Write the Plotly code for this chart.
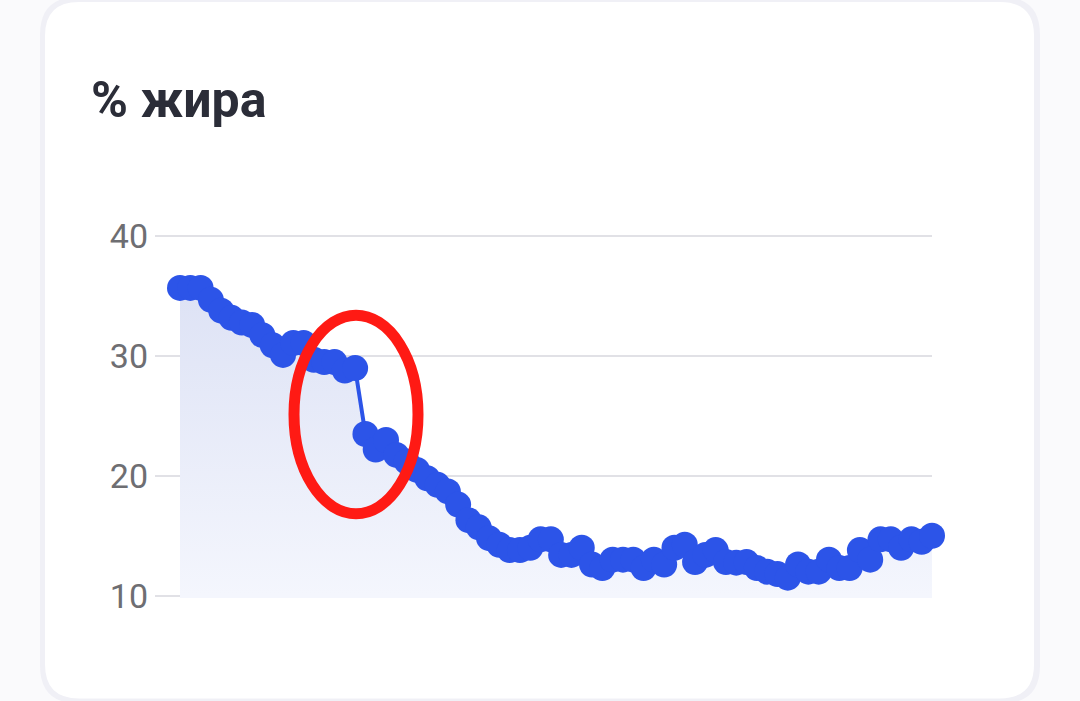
import plotly.graph_objects as go

# body fat readings, one per measurement
fat_pct = [35.7, 35.7, 35.7, 34.7, 33.8, 33.2, 32.8, 32.6, 31.75, 30.9,
           30.1, 31.1, 31.1, 29.7, 29.5, 29.5, 28.8, 29.0, 23.5, 22.2,
           23.0, 21.75, 21.2, 20.5, 19.8, 19.25, 18.7, 17.6, 16.3, 15.7,
           14.8, 14.25, 13.8, 13.8, 14.0, 14.7, 14.7, 13.4, 13.4, 14.0,
           12.6, 12.3, 13.0, 13.0, 13.0, 12.3, 13.0, 12.6, 14.0, 14.25,
           12.8, 13.4, 13.8, 12.8, 12.75, 12.8, 12.3, 12.0, 11.8, 11.5,
           12.6, 12.0, 12.0, 13.0, 12.3, 12.3, 13.8, 13.0, 14.7, 14.7,
           14.0, 14.7, 14.5, 15.0]
measure_no = list(range(len(fat_pct)))
y_ticks = [10, 20, 30, 40]
title = "% жира"

W, H = 1080, 701
# y range padded a little so the 10 and 40 grid lines are still drawn
Y_LO, Y_HI, PAD = 10, 40, 0.2
L, R = 155, 148
T, B = 236 - PAD * 12, 105 - PAD * 12   # 12 px per unit
PW, PH = W - L - R, H - T - B
blue = "#2c54e8"


# convert page pixels (top-left origin) to plot-area "paper" units
def px(v):
    return (v - L) / PW


def py(v):
    return (H - B - v) / PH


def rounded_rect(x0, y0, x1, y1, r):
    return (f"M {px(x0 + r)} {py(y0)} L {px(x1 - r)} {py(y0)} "
            f"Q {px(x1)} {py(y0)} {px(x1)} {py(y0 + r)} "
            f"L {px(x1)} {py(y1 - r)} Q {px(x1)} {py(y1)} {px(x1 - r)} {py(y1)} "
            f"L {px(x0 + r)} {py(y1)} Q {px(x0)} {py(y1)} {px(x0)} {py(y1 - r)} "
            f"L {px(x0)} {py(y0 + r)} Q {px(x0)} {py(y0)} {px(x0 + r)} {py(y0)} Z")


fig = go.Figure()
fig.add_trace(go.Scatter(
    x=measure_no, y=fat_pct,
    mode="lines+markers",
    line=dict(color=blue, width=4),
    marker=dict(color=blue, size=26, line=dict(width=0)),
    fill="tozeroy",
    fillgradient=dict(type="vertical", start=10, stop=36,
                      colorscale=[[0, "#f4f6fd"], [1, "#dde2f5"]]),
    cliponaxis=False,
    hoverinfo="skip",
))

span = len(fat_pct) - 1
fig.update_xaxes(range=[-span * 25 / 752, span], visible=False, fixedrange=True)
fig.update_yaxes(range=[Y_LO - PAD, Y_HI + PAD], tickvals=y_ticks, showgrid=True,
                 gridcolor="#e1e1e6", gridwidth=2, zeroline=False,
                 showline=False, ticks="", ticklabelstandoff=6,
                 tickfont=dict(family="Roboto", size=34, color="#6e6e72"),
                 fixedrange=True)

# fill must stop at the 10 line, not below it
shapes = [
    dict(type="path", xref="paper", yref="paper", layer="below",
         path=rounded_rect(40, -4, 1040, 704, 38), fillcolor="#f0f0f6",
         line=dict(width=0)),
    dict(type="path", xref="paper", yref="paper", layer="below",
         path=rounded_rect(45, 1, 1034, 699, 34), fillcolor="#ffffff",
         line=dict(width=0)),
    dict(type="rect", xref="paper", yref="y", layer="between",
         x0=0, x1=1, y0=Y_LO - PAD - 1, y1=Y_LO, fillcolor="#ffffff",
         line=dict(width=0)),
    dict(type="circle", xref="paper", yref="paper", layer="above",
         x0=px(294), x1=px(418), y0=py(514), y1=py(315),
         line=dict(color="#ff1a14", width=11)),
]

fig.update_layout(
    width=W, height=H,
    margin=dict(l=L, r=R, t=T, b=B),
    paper_bgcolor="#fafafc", plot_bgcolor="rgba(0,0,0,0)",
    showlegend=False, shapes=shapes,
    annotations=[dict(text=f"<b>{title}</b>", xref="paper", yref="paper",
                      x=px(89), y=py(99), xanchor="left", yanchor="middle",
                      showarrow=False,
                      font=dict(family="Roboto", size=50, color="#2b2d38"))],
)

fig.write_html("out.html", config={"displayModeBar": False},
               post_script="document.body.style.margin='0';")
